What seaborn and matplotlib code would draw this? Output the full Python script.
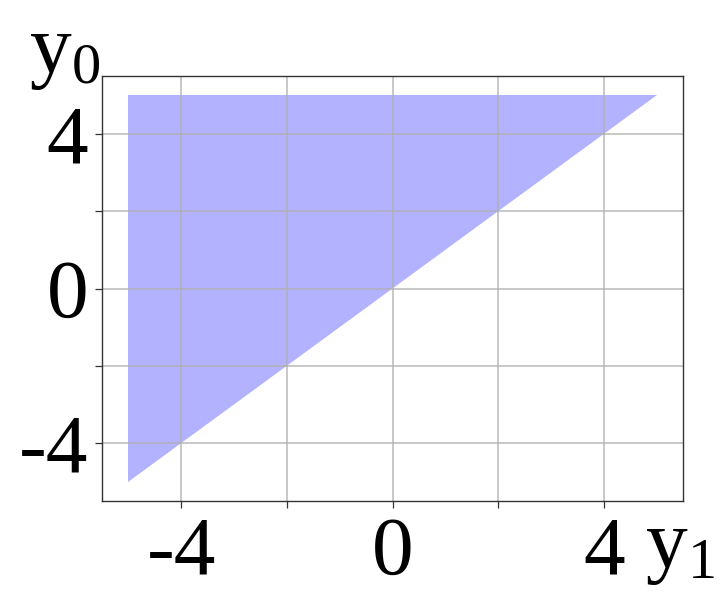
import matplotlib
matplotlib.use("Agg")
import matplotlib.pyplot as plt
import seaborn as sns

# Data: filled region vertices
region_x = [-5, -5, 5]
region_y = [-5, 5, 5]
tick_positions = [-4, -2, 0, 2, 4]
tick_labels = ["-4", "", "0", "", "4"]
x_label = r"$\mathrm{y_1}$"
y_label = r"$\mathrm{y_0}$"

sns.set_theme(style="whitegrid")
plt.rcParams["font.family"] = ["Liberation Serif", "DejaVu Serif"]
plt.rcParams["mathtext.fontset"] = "custom"
plt.rcParams["mathtext.rm"] = "Liberation Serif"
plt.rcParams["mathtext.it"] = "Liberation Serif"
plt.rcParams["axes.unicode_minus"] = False
plt.rcParams["text.color"] = "black"

fig = plt.figure(figsize=(7.28, 6.01), dpi=100)
ax = fig.add_axes([102/728, 1-501/601, (683-102)/728, (501-76)/601])

ax.fill(region_x, region_y, color="blue", alpha=0.3, linewidth=0, zorder=0.5)

ax.set_xlim(-5.5, 5.5)
ax.set_ylim(-5.5, 5.5)
ax.set_xticks(tick_positions)
ax.set_xticklabels(tick_labels)
ax.set_yticks(tick_positions)
ax.set_yticklabels(tick_labels)

ax.set_facecolor("white")
ax.set_axisbelow(False)
ax.grid(True, color="#afafaf", alpha=0.8, linewidth=1.2, zorder=1)
for s in ax.spines.values():
    s.set_color("#333333")
    s.set_linewidth(1.0)
    s.set_visible(True)
    s.set_zorder(3)

ax.tick_params(axis="both", which="major", length=5, width=0.9, color="#333333",
               labelsize=60, labelcolor="black", bottom=True, left=True)
ax.tick_params(axis="x", pad=6)
ax.tick_params(axis="y", pad=5)

fig.text(100/728, 1-92/601, y_label, fontsize=60, ha="right", va="bottom", color="black")
fig.text(715/728, 1-587/601, x_label, fontsize=60, ha="right", va="bottom", color="black")

fig.savefig("out.png", dpi=100, facecolor="white")
